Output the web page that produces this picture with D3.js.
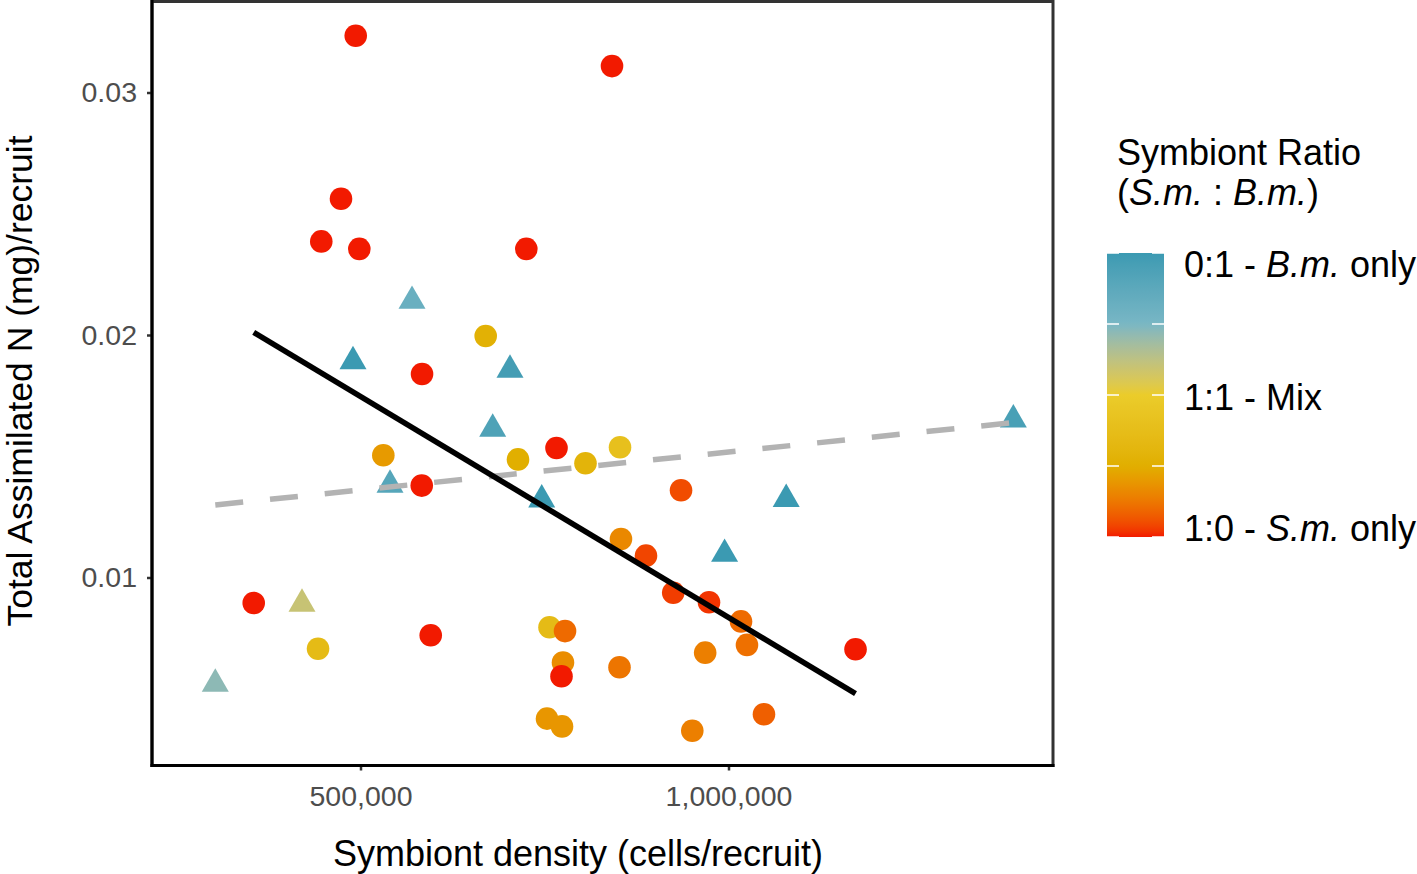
<!DOCTYPE html>
<html><head><meta charset="utf-8">
<script src="https://cdn.jsdelivr.net/npm/d3@7"></script>
<style>
body{margin:0;background:#fff;}
text{font-family:"Liberation Sans",Arial,Helvetica,sans-serif;}
</style>
</head><body>
<svg id="chart" width="1417" height="874"></svg>
<script>
// ---- data ----
// circles: recruits with S.m. present
const circleDensity = [493500, 841700, 473500, 446700, 498400, 725300, 670100, 583600, 766300, 531000,
  714000, 805700, 852600, 583200, 935500, 853900, 887900, 924900, 973500, 1017000,
  1025100, 968300, 1172600, 851900, 1048200, 950800, 354900, 442300, 595400, 756800,
  777900, 775100, 773100, 753400, 773800];
const circleN = [0.03234, 0.03109, 0.02562, 0.02386, 0.02355, 0.02355, 0.01996, 0.01839, 0.01534, 0.01504,
  0.01487, 0.01471, 0.01537, 0.01379, 0.01360, 0.01159, 0.01090, 0.00937, 0.00898, 0.00819,
  0.00722, 0.00690, 0.00704, 0.00630, 0.00436, 0.00368, 0.00895, 0.00706, 0.00762, 0.00795,
  0.00779, 0.00649, 0.00593, 0.00418, 0.00386];
const circleRatio = [0, 0, 0, 0, 0, 0, 0.27, 0, 0, 0.2,
  0.25, 0.29, 0.4, 0, 0.05, 0.16, 0.04, 0.03, 0.02, 0.1,
  0.11, 0.14, 0, 0.12, 0.08, 0.14, 0, 0.35, 0, 0.35,
  0.1, 0.17, 0, 0.19, 0.19];
// triangles: B.m.-dominated recruits
const triDensity = [570000, 489800, 703100, 679600, 540100, 746200, 420500, 302700, 994700, 1078400, 1387000];
const triN = [0.02140, 0.01891, 0.01856, 0.01613, 0.01382, 0.01321, 0.00891, 0.00561, 0.01097, 0.01323, 0.01651];
const triRatio = [0.82, 1, 0.97, 0.93, 0.9, 1, 0.6, 0.72, 1, 1, 0.95];

const xTicks = [500000, 1000000];
const yTicks = [0.01, 0.02, 0.03];
const paletteStops = [0, 0.25, 0.5, 0.75, 1];
const paletteColors = ["#F21A00", "#E1AF00", "#EBCC2A", "#78B7C5", "#3B9AB2"];
const legendBreaks = [0, 0.25, 0.5, 0.75, 1];
const legendLabelValues = [0.96, 0.49, 0.03];
const legendLabels = [
  [["0:1 - ", false], ["B.m.", true], [" only", false]],
  [["1:1 - Mix", false]],
  [["1:0 - ", false], ["S.m.", true], [" only", false]]
];
const legendTitle2 = [["(", false], ["S.m.", true], [" : ", false], ["B.m.", true], [")", false]];

// ---- scales ----
const svg = d3.select("#chart");
const x = d3.scaleLinear().domain([216700, 1440900]).range([152, 1053]);
const y = d3.scaleLinear().domain([0.002247, 0.033753]).range([765.5, 1.5]);
const color = d3.scaleLinear().domain(paletteStops).range(paletteColors).interpolate(d3.interpolateLab);

const circles = circleDensity.map((d, i) => ({x: d, y: circleN[i], r: circleRatio[i]}));
const tris = triDensity.map((d, i) => ({x: d, y: triN[i], r: triRatio[i]}));

function fit(pts) {
  const mx = d3.mean(pts, p => p.x), my = d3.mean(pts, p => p.y);
  const sxy = d3.sum(pts, p => (p.x - mx) * (p.y - my));
  const sxx = d3.sum(pts, p => (p.x - mx) ** 2);
  const b = sxy / sxx, a = my - b * mx;
  const [x0, x1] = d3.extent(pts, p => p.x);
  return [{x: x0, y: a + b * x0}, {x: x1, y: a + b * x1}];
}
const line = d3.line().x(d => x(d.x)).y(d => y(d.y));

// ---- axes ----
const yAxis = svg.append("g").attr("transform", "translate(152,0)")
  .call(d3.axisLeft(y).tickValues(yTicks).tickFormat(d3.format(".2f")).tickSize(5).tickPadding(10));
const xAxis = svg.append("g").attr("transform", "translate(0,765.5)")
  .call(d3.axisBottom(x).tickValues(xTicks).tickFormat(d3.format(",")).tickSize(5).tickPadding(15));
[yAxis, xAxis].forEach(g => {
  g.select(".domain").remove();
  g.selectAll(".tick line").attr("stroke", "#333").attr("stroke-width", 2.5);
  g.selectAll(".tick text").attr("fill", "#4D4D4D").style("font-size", "28.5px")
    .style("font-family", '"Liberation Sans",Arial,Helvetica,sans-serif');
});

// ---- marks ----
const tri = d3.symbol().type(d3.symbolTriangle).size(316);
svg.append("g").selectAll("path").data(tris).join("path")
  .attr("d", tri)
  .attr("transform", d => `translate(${x(d.x)},${y(d.y)})`)
  .attr("fill", d => color(d.r));

svg.append("path").datum(fit(tris)).attr("d", line)
  .attr("fill", "none").attr("stroke", "#B3B3B3").attr("stroke-width", 5.5)
  .attr("stroke-dasharray", "28 27");

svg.append("g").selectAll("circle").data(circles).join("circle")
  .attr("cx", d => x(d.x)).attr("cy", d => y(d.y)).attr("r", 11.3)
  .attr("fill", d => color(d.r));

svg.append("path").datum(fit(circles)).attr("d", line)
  .attr("fill", "none").attr("stroke", "#000").attr("stroke-width", 5.6);

// ---- panel border ----
svg.append("rect").attr("x", 152).attr("y", 1.5).attr("width", 901).attr("height", 764)
  .attr("fill", "none").attr("stroke", "#333").attr("stroke-width", 3);
svg.append("line").attr("x1", 152).attr("x2", 152).attr("y1", 0).attr("y2", 767)
  .attr("stroke", "#000").attr("stroke-width", 3);
svg.append("line").attr("x1", 150.5).attr("x2", 1054.5).attr("y1", 765.5).attr("y2", 765.5)
  .attr("stroke", "#000").attr("stroke-width", 3);

// ---- axis titles ----
svg.append("text").attr("x", 578).attr("y", 866).attr("text-anchor", "middle")
  .style("font-size", "36px").attr("fill", "#000").text("Symbiont density (cells/recruit)");
svg.append("text").attr("transform", "translate(32,381) rotate(-90)").attr("text-anchor", "middle")
  .style("font-size", "35.5px").attr("fill", "#000").text("Total Assimilated N (mg)/recruit");

// ---- legend ----
const lg = svg.append("g");
lg.append("text").attr("x", 1117).attr("y", 165).style("font-size", "36px").text("Symbiont Ratio");
const t2 = lg.append("text").attr("x", 1117).attr("y", 205).style("font-size", "36px");
legendTitle2.forEach(([s, it]) => t2.append("tspan").attr("font-style", it ? "italic" : "normal").text(s));

const ly = d3.scaleLinear().domain([0, 1]).range([537, 253]);
const grad = svg.append("defs").append("linearGradient").attr("id", "lgrad")
  .attr("x1", 0).attr("x2", 0).attr("y1", 1).attr("y2", 0);
d3.range(0, 1.0001, 0.02).forEach(t => grad.append("stop").attr("offset", t).attr("stop-color", color(t)));
lg.append("rect").attr("x", 1107).attr("y", ly(1)).attr("width", 57).attr("height", ly(0) - ly(1))
  .attr("fill", "url(#lgrad)");
legendBreaks.forEach(b => {
  lg.append("line").attr("x1", 1107).attr("x2", 1119).attr("y1", ly(b)).attr("y2", ly(b))
    .attr("stroke", "#fff").attr("stroke-width", 1.5);
  lg.append("line").attr("x1", 1152).attr("x2", 1164).attr("y1", ly(b)).attr("y2", ly(b))
    .attr("stroke", "#fff").attr("stroke-width", 1.5);
});
legendLabels.forEach((parts, i) => {
  const t = lg.append("text").attr("x", 1184).attr("y", ly(legendLabelValues[i]) + 12.5)
    .style("font-size", "36px");
  parts.forEach(([s, it]) => t.append("tspan").attr("font-style", it ? "italic" : "normal").text(s));
});
</script>
</body></html>
